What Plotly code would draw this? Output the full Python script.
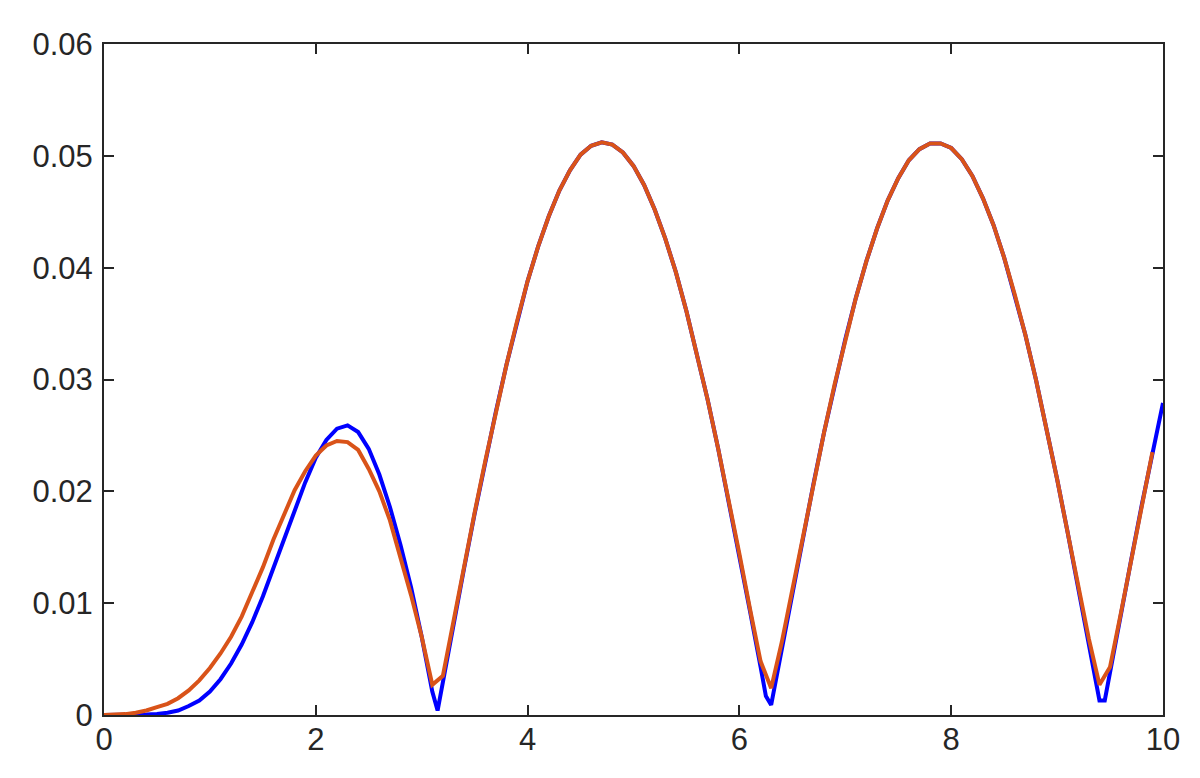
import plotly.graph_objects as go

# blue curve
blue_x = [
    0.0, 0.1, 0.2, 0.3, 0.4, 0.5, 0.6, 0.7, 0.8, 0.9,
    1.0, 1.1, 1.2, 1.3, 1.4, 1.5, 1.6, 1.7, 1.8, 1.9,
    2.0, 2.1, 2.2, 2.3, 2.4, 2.5, 2.6, 2.7, 2.8, 2.9,
    3.0, 3.1, 3.15, 3.2, 3.3, 3.4, 3.5, 3.6, 3.7, 3.8, 3.9,
    4.0, 4.1, 4.2, 4.3, 4.4, 4.5, 4.6, 4.7, 4.8, 4.9,
    5.0, 5.1, 5.2, 5.3, 5.4, 5.5, 5.6, 5.7, 5.8, 5.9,
    6.0, 6.1, 6.2, 6.25, 6.3, 6.35, 6.4, 6.5, 6.6, 6.7, 6.8, 6.9,
    7.0, 7.1, 7.2, 7.3, 7.4, 7.5, 7.6, 7.7, 7.8, 7.9,
    8.0, 8.1, 8.2, 8.3, 8.4, 8.5, 8.6, 8.7, 8.8, 8.9,
    9.0, 9.1, 9.2, 9.3, 9.4, 9.45, 9.5, 9.6, 9.7, 9.8, 9.9, 10.0,
]
blue_y = [
    0.0, 0.0, 0.0, 0.00002, 0.00005, 0.0001, 0.0002, 0.0004, 0.0008, 0.0013,
    0.0021, 0.0032, 0.0046, 0.0063, 0.0083, 0.0106, 0.0131, 0.0157, 0.0183, 0.0208,
    0.0230, 0.0246, 0.0256, 0.0259, 0.0253, 0.0238, 0.0215, 0.0186, 0.0152, 0.0114,
    0.0070, 0.0021, 0.0004, 0.0030, 0.0081, 0.0131, 0.0180, 0.0227, 0.0271, 0.0313, 0.0352,
    0.0388, 0.0419, 0.0446, 0.0469, 0.0487, 0.0501, 0.0509, 0.0512, 0.0510, 0.0503,
    0.0491, 0.0474, 0.0452, 0.0426, 0.0396, 0.0361, 0.0323, 0.0282, 0.0238, 0.0191,
    0.0143, 0.0093, 0.0043, 0.0017, 0.0009, 0.0034, 0.0060, 0.0110, 0.0160, 0.0207, 0.0253, 0.0296,
    0.0336, 0.0373, 0.0406, 0.0435, 0.0460, 0.0480, 0.0496, 0.0506, 0.0511, 0.0511,
    0.0507, 0.0497, 0.0482, 0.0462, 0.0438, 0.0409, 0.0376, 0.0340, 0.0300, 0.0257,
    0.0211, 0.0163, 0.0114, 0.0064, 0.0013, 0.0013, 0.0039, 0.0089, 0.0139, 0.0188, 0.0234, 0.0279,
]

# orange curve, coarser and stops short of 10
orange_x = [
    0.0, 0.1, 0.2, 0.3, 0.4, 0.5, 0.6, 0.7, 0.8, 0.9,
    1.0, 1.1, 1.2, 1.3, 1.4, 1.5, 1.6, 1.7, 1.8, 1.9,
    2.0, 2.1, 2.2, 2.3, 2.4, 2.5, 2.6, 2.7, 2.8, 2.9,
    3.0, 3.1, 3.2, 3.3, 3.4, 3.5, 3.6, 3.7, 3.8, 3.9,
    4.0, 4.1, 4.2, 4.3, 4.4, 4.5, 4.6, 4.7, 4.8, 4.9,
    5.0, 5.1, 5.2, 5.3, 5.4, 5.5, 5.6, 5.7, 5.8, 5.9,
    6.0, 6.1, 6.2, 6.3, 6.4, 6.5, 6.6, 6.7, 6.8, 6.9,
    7.0, 7.1, 7.2, 7.3, 7.4, 7.5, 7.6, 7.7, 7.8, 7.9,
    8.0, 8.1, 8.2, 8.3, 8.4, 8.5, 8.6, 8.7, 8.8, 8.9,
    9.0, 9.1, 9.2, 9.3, 9.4, 9.5, 9.6, 9.7, 9.8, 9.9,
]
orange_y = [
    0.0, 0.00002, 0.00008, 0.0002, 0.0004, 0.0007, 0.0010, 0.0015, 0.0022, 0.0031,
    0.0042, 0.0055, 0.0070, 0.0088, 0.0109, 0.0132, 0.0157, 0.0180, 0.0201, 0.0218,
    0.0232, 0.0241, 0.0245, 0.0244, 0.0237, 0.0220, 0.0200, 0.0174, 0.0142, 0.0107,
    0.0070, 0.0027, 0.0035, 0.0085, 0.0133, 0.0181, 0.0227, 0.0271, 0.0313, 0.0352,
    0.0388, 0.0419, 0.0446, 0.0469, 0.0487, 0.0501, 0.0509, 0.0512, 0.0510, 0.0503,
    0.0491, 0.0474, 0.0452, 0.0426, 0.0396, 0.0361, 0.0323, 0.0282, 0.0238, 0.0192,
    0.0144, 0.0095, 0.0048, 0.0024, 0.0065, 0.0112, 0.0160, 0.0207, 0.0253, 0.0296,
    0.0336, 0.0373, 0.0406, 0.0435, 0.0460, 0.0480, 0.0496, 0.0506, 0.0511, 0.0511,
    0.0507, 0.0497, 0.0482, 0.0462, 0.0438, 0.0409, 0.0376, 0.0340, 0.0300, 0.0257,
    0.0211, 0.0163, 0.0115, 0.0068, 0.0027, 0.0043, 0.0090, 0.0139, 0.0188, 0.0235,
]

x_ticks = [0, 2, 4, 6, 8, 10]
y_ticks = [0, 0.01, 0.02, 0.03, 0.04, 0.05, 0.06]
y_labels = ["0", "0.01", "0.02", "0.03", "0.04", "0.05", "0.06"]

AXIS_COLOR = "#262626"

fig = go.Figure()
fig.add_trace(go.Scatter(x=blue_x, y=blue_y, mode="lines",
                         line=dict(color="#0000FF", width=4)))
fig.add_trace(go.Scatter(x=orange_x, y=orange_y, mode="lines",
                         line=dict(color="#D95319", width=4)))

axis_style = dict(
    showgrid=False, zeroline=False,
    showline=True, linecolor=AXIS_COLOR, linewidth=2, mirror="ticks",
    ticks="inside", ticklen=10, tickwidth=2, tickcolor=AXIS_COLOR,
    tickfont=dict(family="Liberation Sans, Arial, sans-serif", size=31, color=AXIS_COLOR),
)

fig.update_xaxes(range=[0, 10], tickvals=x_ticks, ticklabelstandoff=-4, **axis_style)
fig.update_yaxes(range=[0, 0.06], tickvals=y_ticks, ticktext=y_labels,
                 ticklabelstandoff=3, **axis_style)

# page body adds ~8px offset, margins compensate
fig.update_layout(
    width=1200, height=778,
    margin=dict(l=96, r=45, t=36, b=71),
    plot_bgcolor="white", paper_bgcolor="white",
    showlegend=False,
)

fig.write_html("out.html")
